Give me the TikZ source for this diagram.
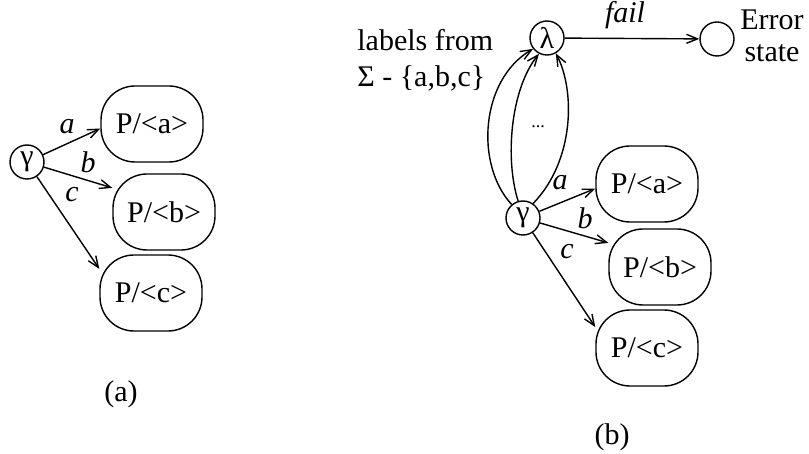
\documentclass[tikz,border=0pt]{standalone}
\usepackage{fontspec}
\setmainfont{Liberation Serif}
\usetikzlibrary{arrows.meta}

\begin{document}
\begin{tikzpicture}[x=0.5pt,y=0.5pt,yscale=-1,
  every node/.style={font=\fontsize{15}{17}\selectfont},
  state/.style={draw,circle,inner sep=0pt,minimum size=17pt},
  blob/.style={draw,rounded corners=17pt,minimum width=51pt,minimum height=38pt,inner sep=0pt},
  lbl/.style={font=\fontsize{15}{17}\selectfont\itshape},
  >={Straight Barb[length=5.5pt,width=4.5pt]},
  line width=0.7pt]
\useasboundingbox (0,0) rectangle (809,454);

%%% (a)
%Shape: Circle
\node [state] (g1) at (27,162) {γ};
%Shape: Blobs
\node [blob] (pa1) at (152,124) {P/<a>};
\node [blob] (pb1) at (164,212) {P/<b>};
\node [blob] (pc1) at (151,293) {P/<c>};
%Straight Lines
\draw [->] (g1) -- (pa1.185);
\draw [->] (g1) -- (pb1.155);
\draw [->] (g1) -- (pc1.155);
% Text Node
\node [lbl] (la1) at (67,127) {a};
\node [lbl] (lb1) at (88,162) {b};
\node [lbl] (lc1) at (72,195) {c};
\node (capa) at (121,394) {(a)};

%%% (b)
%Shape: Circle
\node [state] (g2) at (523,218) {γ};
\node [state] (lam) at (547,38) {λ};
\node [state] (err) at (717,39) {};
%Shape: Blobs
\node [blob] (pa2) at (647,184) {P/<a>};
\node [blob] (pb2) at (660,267) {P/<b>};
\node [blob] (pc2) at (647,348) {P/<c>};
%Straight Lines
\draw [->] (g2) -- (pa2.185);
\draw [->] (g2) -- (pb2.155);
\draw [->] (g2) -- (pc2.158);
\draw [->] (lam) -- (err);
%Curve Lines
\draw [->] (g2.130) .. controls (475,165) and (480,80) .. (lam.218);
\draw [->] (g2.106) .. controls (505,160) and (510,90) .. (lam.243);
\draw [->] (g2.55) .. controls (575,160) and (575,90) .. (lam.300);
% Text Node
\node [lbl] (la2) at (560,183) {a};
\node [lbl] (lb2) at (585,218) {b};
\node [lbl] (lc2) at (567,252) {c};
\node [lbl] (fl) at (625,15) {fail};
\node [align=center] (es) at (772,36) {Error\\[-1pt]state};
\node [anchor=west] (lf) at (350,40) {labels from};
\node [anchor=west] (sg) at (350,78) {Σ - \{a,b,c\}};
\node (dt) at (538,127) {\fontsize{9}{9}\selectfont ...};
\node (capb) at (612,437) {(b)};

\end{tikzpicture}
\end{document}
